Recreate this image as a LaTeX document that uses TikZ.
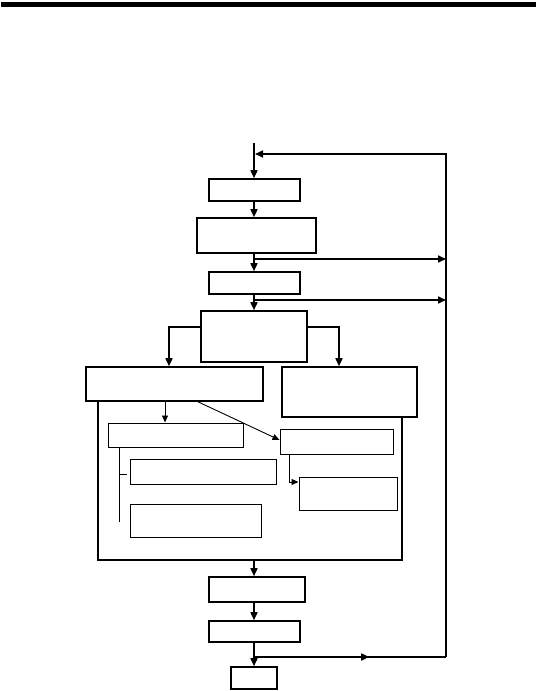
\documentclass[tikz,border=0pt]{standalone}
\usetikzlibrary{arrows.meta,calc,decorations.markings}
\begin{document}
\begin{tikzpicture}[x=1pt,y=-1pt,
  mainbox/.style={draw,line width=1.6pt,inner sep=0pt,rectangle},
  subbox/.style={draw,line width=1pt,inner sep=0pt,rectangle},
  flow/.style={line width=1.6pt,-{Triangle[length=8pt,width=7pt]}},
  thinflow/.style={line width=0.9pt,-{Triangle[length=7pt,width=6pt]}},
  plain/.style={line width=1.6pt},
  thin/.style={line width=0.9pt},
  midarrow/.style={postaction={decorate},decoration={markings,mark=at position #1 with {\arrow{Triangle[length=8pt,width=7pt]}}}}]
\useasboundingbox (0,0) rectangle (536,691);
% top rule
\fill (1,2) rectangle (536,6.5);
% main boxes
\node[mainbox,minimum width=91pt,minimum height=22pt] (b1) at (254.5,190) {};
\node[mainbox,minimum width=119pt,minimum height=35pt] (b2) at (256.5,235.5) {};
\node[mainbox,minimum width=91pt,minimum height=22pt] (b3) at (254.5,283) {};
\node[mainbox,minimum width=106pt,minimum height=51pt] (b4) at (254,336.5) {};
\node[mainbox,minimum width=177pt,minimum height=34pt] (b5) at (174.5,384) {};
\node[mainbox,minimum width=135pt,minimum height=50pt] (b6) at (349.5,392) {};
\node[subbox,minimum width=135pt,minimum height=24pt] (b7) at (175.5,435) {};
\node[subbox,minimum width=113pt,minimum height=25pt] (b8) at (336.5,441.5) {};
\node[subbox,minimum width=146pt,minimum height=25pt] (b9) at (203,471.5) {};
\node[subbox,minimum width=131pt,minimum height=33pt] (b10) at (195.5,520.5) {};
\node[subbox,minimum width=98pt,minimum height=33pt] (b11) at (348,493.5) {};
\node[mainbox,minimum width=96pt,minimum height=25pt] (b12) at (257,589.5) {};
\node[mainbox,minimum width=91pt,minimum height=21pt] (b13) at (254.5,631.5) {};
\node[mainbox,minimum width=46pt,minimum height=22pt] (b14) at (254,678) {};
% coordinates
\coordinate (top) at (254,143);
\coordinate (fb) at (254,154);
\coordinate (rt) at (446,154);
\coordinate (rb) at (446,657);
\coordinate (j1) at (254,259);
\coordinate (e1) at (446,259);
\coordinate (j2) at (254,300);
\coordinate (e2) at (446,300);
\coordinate (j3) at (254,657);
\coordinate (cb) at (254,560);
% container
\draw[plain] (b5.south west -| 98,0) -- (98,560) -- (402,560) -- (b6.south east -| 402,0);
% main flow
\draw[flow] (top) -- (b1.north -| top);
\draw[flow] (b1.south -| top) -- (b2.north -| top);
\draw[flow] (b2.south -| top) -- (b3.north -| top);
\draw[flow] (b3.south -| top) -- (b4.north -| top);
\draw[flow] (j1) -- (e1);
\draw[flow] (j2) -- (e2);
\draw[flow] (rb) -- (rt) -- (fb -| 255,0);
\draw[plain,midarrow=0.6] (j3) -- (rb);
\draw[flow] (b4.west |- 0,327) -- (169,327) -- (b5.north -| 169,0);
\draw[flow] (b4.east |- 0,327) -- (339,327) -- (b6.north -| 339,0);
\draw[flow] (cb) -- (b12.north -| cb);
\draw[flow] (b12.south -| cb) -- (b13.north -| cb);
\draw[flow] (b13.south -| cb) -- (b14.north -| cb);
% inner connectors
\draw[thinflow] (b5.south -| 165,0) -- (b7.north -| 165,0);
\draw[thinflow] (b5.south -| 198,0) -- (b8.north west |- 0,440);
\draw[thin] (b7.south -| 119,0) -- (119,522);
\draw[thin] (119,474) -- (127,474);
\draw[thinflow] (b8.south -| 289,0) -- (289,482) -- (b11.west |- 0,482);
\end{tikzpicture}
\end{document}
